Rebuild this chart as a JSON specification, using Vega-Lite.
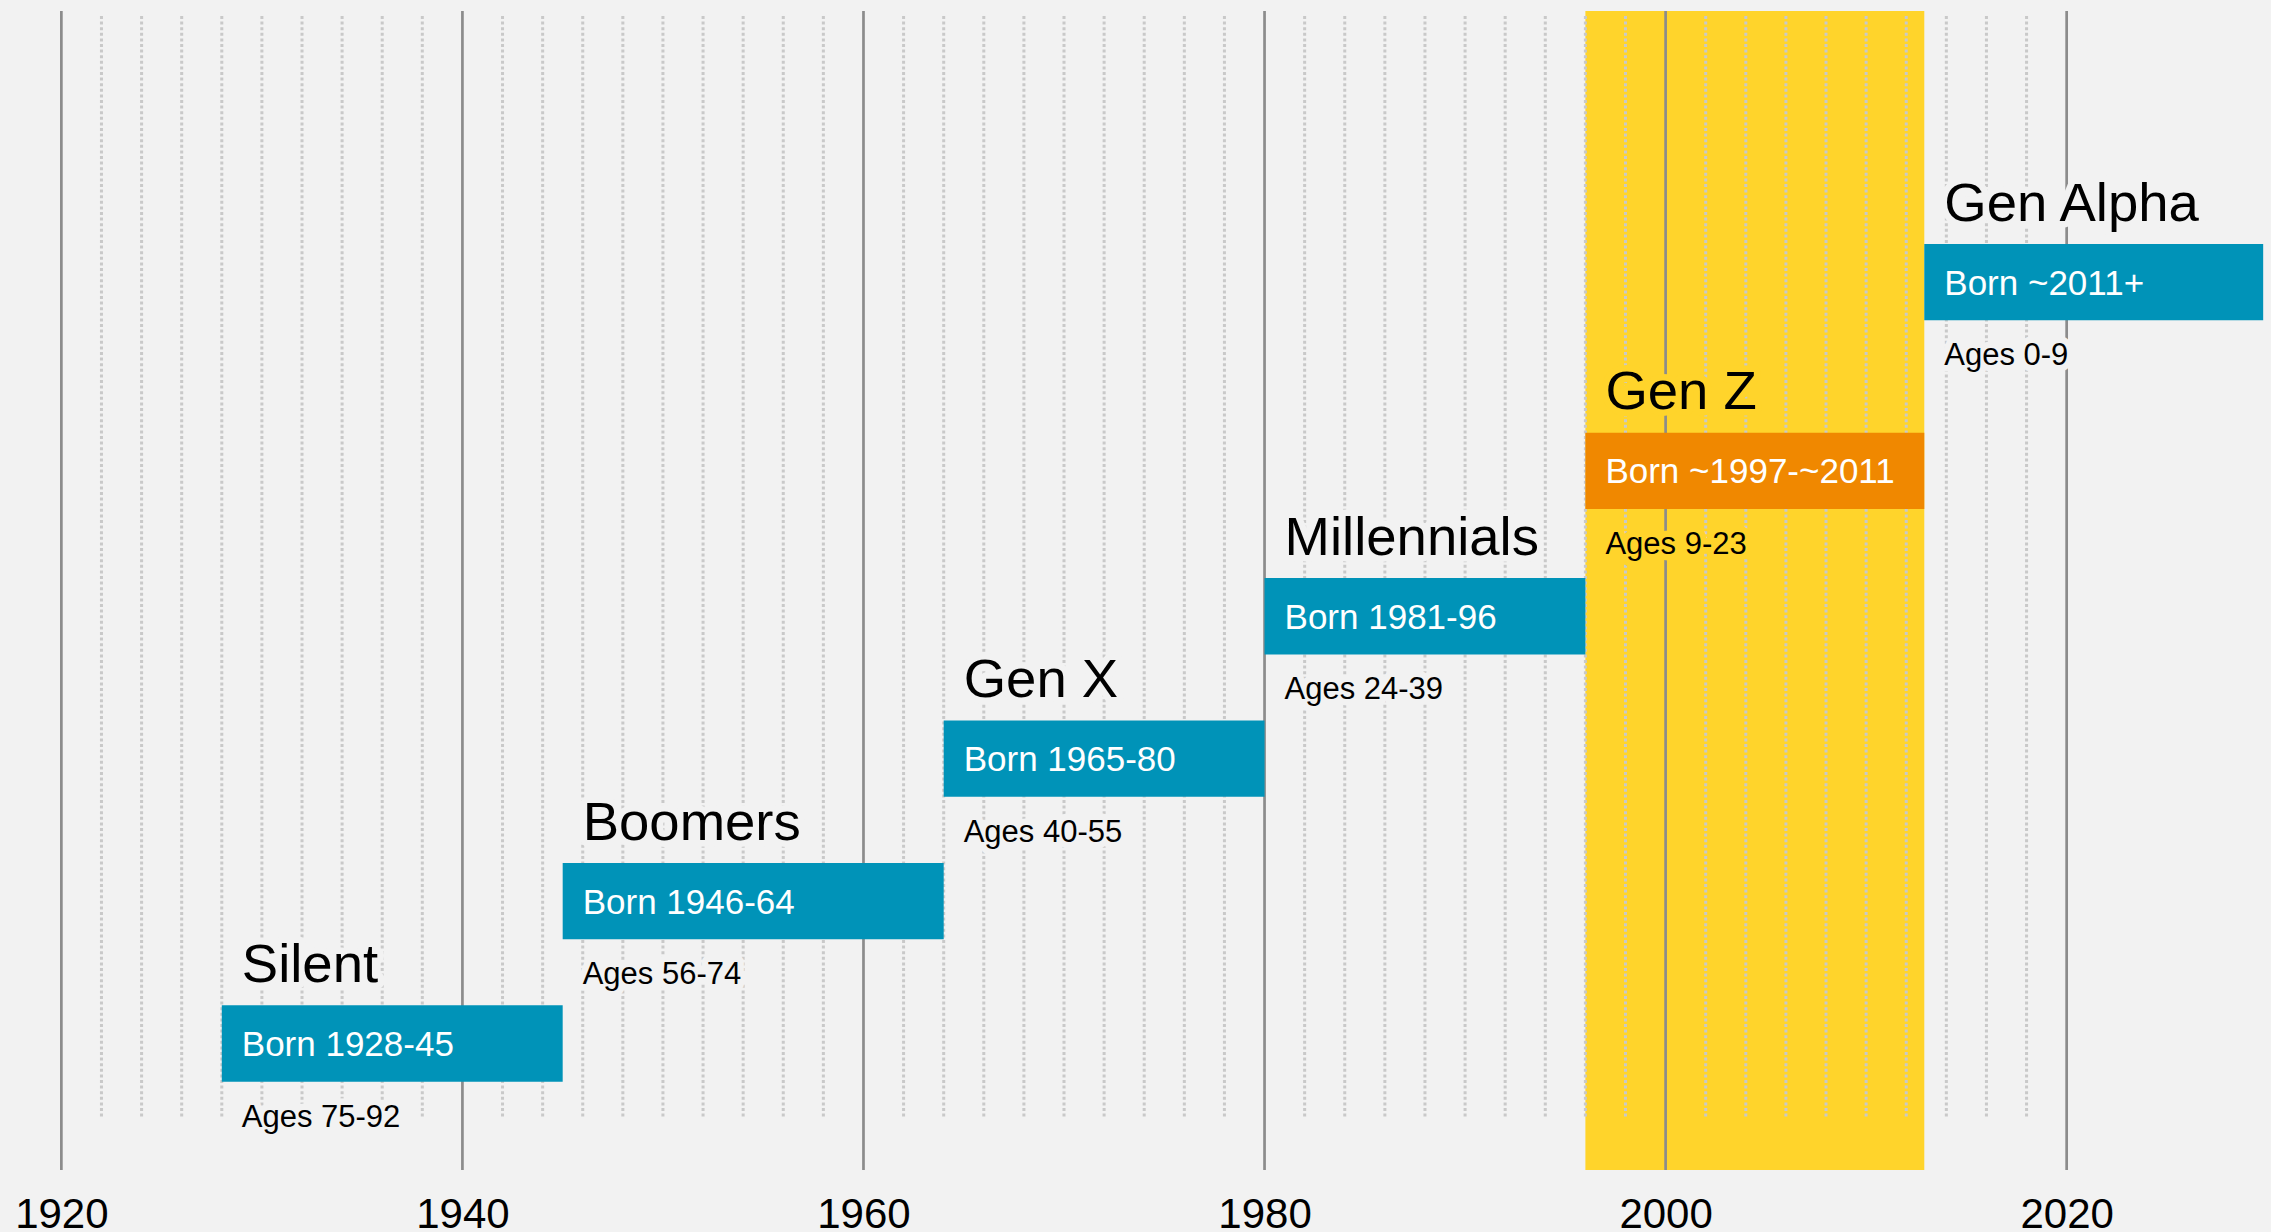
{
  "$schema": "https://vega.github.io/schema/vega-lite/v6.json",
  "width": 2271,
  "height": 1159,
  "autosize": {"type": "none"},
  "padding": {"left": 0, "right": 0, "top": 11, "bottom": 62},
  "background": "#f2f2f2",
  "config": {
    "view": {"stroke": null},
    "font": "Liberation Sans",
    "text": {"font": "Liberation Sans"},
    "axisX": {
      "title": null, "grid": false, "ticks": false, "domain": false,
      "labelFontSize": 42, "labelColor": "#000000", "labelFont": "Liberation Sans",
      "labelPadding": 24, "labelOverlap": false, "labelBound": false, "labelFlush": false
    },
    "axisY": {"disable": true}
  },
  "datasets": {
    "generations": [
      {"name": "Silent", "born": "Born 1928-45", "ages": "Ages 75-92", "start": 1928, "end": 1945, "level": 1, "highlight": false},
      {"name": "Boomers", "born": "Born 1946-64", "ages": "Ages 56-74", "start": 1945, "end": 1964, "level": 2, "highlight": false},
      {"name": "Gen X", "born": "Born 1965-80", "ages": "Ages 40-55", "start": 1964, "end": 1980, "level": 3, "highlight": false},
      {"name": "Millennials", "born": "Born 1981-96", "ages": "Ages 24-39", "start": 1980, "end": 1996, "level": 4, "highlight": false},
      {"name": "Gen Z", "born": "Born ~1997-~2011", "ages": "Ages 9-23", "start": 1996, "end": 2012.9, "level": 5.02, "highlight": true},
      {"name": "Gen Alpha", "born": "Born ~2011+", "ages": "Ages 0-9", "start": 2012.9, "end": 2029.8, "level": 6.345, "highlight": false}
    ],
    "major": [{"year": 1920}, {"year": 1940}, {"year": 1960}, {"year": 1980}, {"year": 2000}, {"year": 2020}],
    "minor": [
      {"year": 1922}, {"year": 1924}, {"year": 1926}, {"year": 1928}, {"year": 1930}, {"year": 1932}, {"year": 1934}, {"year": 1936}, {"year": 1938},
      {"year": 1942}, {"year": 1944}, {"year": 1946}, {"year": 1948}, {"year": 1950}, {"year": 1952}, {"year": 1954}, {"year": 1956}, {"year": 1958},
      {"year": 1962}, {"year": 1964}, {"year": 1966}, {"year": 1968}, {"year": 1970}, {"year": 1972}, {"year": 1974}, {"year": 1976}, {"year": 1978},
      {"year": 1982}, {"year": 1984}, {"year": 1986}, {"year": 1988}, {"year": 1990}, {"year": 1992}, {"year": 1994}, {"year": 1996}, {"year": 1998},
      {"year": 2002}, {"year": 2004}, {"year": 2006}, {"year": 2008}, {"year": 2010}, {"year": 2012}, {"year": 2014}, {"year": 2016}, {"year": 2018}
    ]
  },
  "layer": [
    {
      "data": {"name": "major"},
      "mark": {"type": "rule", "color": "#8c8c8c", "strokeWidth": 2.7, "opacity": 0},
      "encoding": {
        "x": {
          "field": "year", "type": "quantitative",
          "scale": {"domain": [1916.94, 2030.19], "nice": false, "zero": false},
          "axis": {"values": [1920, 1940, 1960, 1980, 2000, 2020], "format": "d", "title": null}
        }
      }
    },
    {
      "data": {"name": "generations"},
      "transform": [{"filter": "datum.highlight"}],
      "mark": {"type": "rect", "color": "#ffd42b"},
      "encoding": {
        "x": {"field": "start", "type": "quantitative", "title": null},
        "x2": {"field": "end"}
      }
    },
    {
      "data": {"name": "major"},
      "mark": {"type": "rule", "color": "#8c8c8c", "strokeWidth": 2.7},
      "encoding": {
        "x": {"field": "year", "type": "quantitative", "title": null}
      }
    },
    {
      "data": {"name": "minor"},
      "mark": {"type": "rule", "color": "#c9c9c9", "strokeWidth": 3, "strokeDash": [3, 2.6]},
      "encoding": {
        "x": {"field": "year", "type": "quantitative", "title": null},
        "y": {"datum": 8.213, "type": "quantitative", "scale": {"domain": [0.1475, 8.213], "nice": false, "zero": false}, "axis": null},
        "y2": {"datum": 0.4816}
      }
    },
    {
      "data": {"name": "generations"},
      "mark": {"type": "text", "align": "left", "baseline": "alphabetic", "dx": 20, "dy": -61.5, "fontSize": 54.5, "strokeWidth": 13, "strokeJoin": "round"},
      "encoding": {
        "x": {"field": "start", "type": "quantitative", "title": null},
        "y": {"field": "level", "type": "quantitative", "axis": null},
        "text": {"field": "name"},
        "stroke": {"condition": {"test": "datum.highlight", "value": "#ffd42b"}, "value": "#f2f2f2"},
        "fill": {"condition": {"test": "datum.highlight", "value": "#ffd42b"}, "value": "#f2f2f2"}
      }
    },
    {
      "data": {"name": "generations"},
      "mark": {"type": "text", "align": "left", "baseline": "alphabetic", "dx": 20, "dy": 83, "fontSize": 31, "strokeWidth": 13, "strokeJoin": "round"},
      "encoding": {
        "x": {"field": "start", "type": "quantitative", "title": null},
        "y": {"field": "level", "type": "quantitative", "axis": null},
        "text": {"field": "ages"},
        "stroke": {"condition": {"test": "datum.highlight", "value": "#ffd42b"}, "value": "#f2f2f2"},
        "fill": {"condition": {"test": "datum.highlight", "value": "#ffd42b"}, "value": "#f2f2f2"}
      }
    },
    {
      "data": {"name": "generations"},
      "mark": {"type": "bar", "orient": "horizontal", "size": 76.4},
      "encoding": {
        "x": {"field": "start", "type": "quantitative", "title": null},
        "x2": {"field": "end"},
        "y": {"field": "level", "type": "quantitative", "axis": null},
        "color": {"condition": {"test": "datum.highlight", "value": "#f08800"}, "value": "#0093b8"}
      }
    },
    {
      "data": {"name": "generations"},
      "mark": {"type": "text", "align": "left", "baseline": "alphabetic", "dx": 20, "dy": -61.5, "fontSize": 54.5, "color": "#000000"},
      "encoding": {
        "x": {"field": "start", "type": "quantitative", "title": null},
        "y": {"field": "level", "type": "quantitative", "axis": null},
        "text": {"field": "name"}
      }
    },
    {
      "data": {"name": "generations"},
      "mark": {"type": "text", "align": "left", "baseline": "alphabetic", "dx": 20, "dy": 12.5, "fontSize": 35, "color": "#ffffff"},
      "encoding": {
        "x": {"field": "start", "type": "quantitative", "title": null},
        "y": {"field": "level", "type": "quantitative", "axis": null},
        "text": {"field": "born"}
      }
    },
    {
      "data": {"name": "generations"},
      "mark": {"type": "text", "align": "left", "baseline": "alphabetic", "dx": 20, "dy": 83, "fontSize": 31, "color": "#000000"},
      "encoding": {
        "x": {"field": "start", "type": "quantitative", "title": null},
        "y": {"field": "level", "type": "quantitative", "axis": null},
        "text": {"field": "ages"}
      }
    }
  ]
}
